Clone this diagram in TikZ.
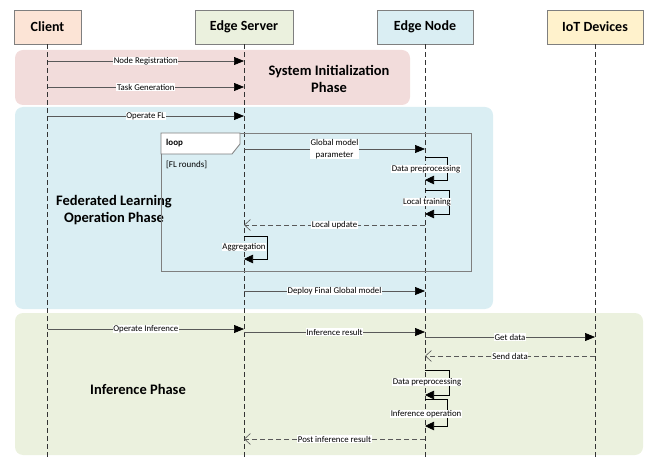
\documentclass[tikz,border=0pt]{standalone}
\usepackage{fontspec}
\setmainfont{Carlito}
\usetikzlibrary{arrows.meta}

\definecolor{clientfill}{HTML}{FCE4D6}
\definecolor{serverfill}{HTML}{EBF1DE}
\definecolor{nodefill}{HTML}{DAEEF3}
\definecolor{iotfill}{HTML}{FFF2CC}
\definecolor{initbg}{HTML}{F2DCDB}
\definecolor{flbg}{HTML}{DAEEF3}
\definecolor{infbg}{HTML}{EBF1DE}
\definecolor{boxline}{HTML}{7F7F7F}
\definecolor{msgline}{HTML}{595959}

\begin{document}
\begin{tikzpicture}[x=1pt,y=-1pt,
  head/.style={draw=boxline, line width=.7pt, minimum height=34pt,
    font=\fontsize{14}{16}\selectfont\bfseries, inner sep=0pt},
  lifeline/.style={draw=black!80, line width=.7pt, dash pattern=on 5pt off 3pt},
  phasebg/.style={rounded corners=8pt, draw=none},
  phasetxt/.style={align=center, font=\fontsize{14.5}{17}\selectfont\bfseries},
  lbl/.style={fill=white, inner sep=.6pt, font=\fontsize{8.8}{10}\selectfont},
  msg/.style={draw=msgline, line width=.7pt,
    -{Triangle[length=10pt,width=8pt,black]}},
  reply/.style={draw=msgline, line width=.7pt, dash pattern=on 5pt off 3pt,
    -{Straight Barb[length=6pt,width=11pt,line width=.6pt,msgline]}},
  selfmsg/.style={draw=black, line width=.7pt,
    -{Triangle[length=9pt,width=8.5pt,black]}},
  frame/.style={draw=boxline, line width=.8pt, inner sep=0pt}
]
\useasboundingbox (0,0) rectangle (648,457);

% phase backgrounds
\fill[phasebg, initbg] (15,50) rectangle (410,105);
\fill[phasebg, flbg] (15,107) rectangle (493,309);
\fill[phasebg, infbg] (15,313) rectangle (643,455);

% participants
\node[head, fill=clientfill, minimum width=67pt] (client) at (47.5,27) {Client};
\node[head, fill=serverfill, minimum width=98pt] (server) at (244,27) {Edge Server};
\node[head, fill=nodefill, minimum width=96pt] (enode) at (425,27) {Edge Node};
\node[head, fill=iotfill, minimum width=96pt] (iot) at (595,27) {IoT Devices};

% lifelines
\foreach \p in {client,server,enode,iot}
  \draw[lifeline] (\p.south) -- (\p.south |- 0,457);

% phase titles
\node[phasetxt] (initTitle) at (329,78.5) {System Initialization\\Phase};
\node[phasetxt] (flTitle) at (114,210.5) {Federated Learning\\Operation Phase};
\node[phasetxt] (infTitle) at (138,389) {Inference Phase};

% loop fragment
\node[frame, minimum width=310pt, minimum height=138pt, anchor=north west]
  (loopframe) at (161,133) {};
\filldraw[draw=boxline, line width=.8pt, fill=white]
  (loopframe.north west) -- ++(79,0) -- ++(0,11) -- ++(-8,10) -- ++(-71,0) -- cycle;
\node[anchor=west, font=\fontsize{9}{10}\selectfont\bfseries, inner sep=0pt]
  (loopLbl) at (166,143.5) {loop};
\node[anchor=west, font=\fontsize{9}{10}\selectfont, inner sep=0pt]
  (loopGuard) at (166,165) {[FL rounds]};

% system initialization
\draw[msg] (client |- 0,61) -- node[lbl] (mNR) {Node Registration} (server |- 0,61);
\draw[msg] (client |- 0,87) -- node[lbl] (mTG) {Task Generation} (server |- 0,87);

% federated learning
\draw[msg] (client |- 0,116) -- node[lbl] (mOF) {Operate FL} (server |- 0,116);
\draw[msg] (server |- 0,149) -- node[lbl, align=center, font=\fontsize{8.8}{12}\selectfont]
  (mGM) {Global model\\parameter} (enode |- 0,149);
\draw[selfmsg] (enode |- 0,157) -- ++(22,0) -- ++(0,23) -- ++(-22,0);
\node[lbl] (sDP1) at (426,169) {Data preprocessing};
\draw[selfmsg] (enode |- 0,190) -- ++(24,0) -- ++(0,24) -- ++(-24,0);
\node[lbl] (sLT) at (427,202) {Local training};
\draw[reply] (enode |- 0,225) -- node[lbl] (mLU) {Local update} (server |- 0,225);
\draw[selfmsg] (server |- 0,236) -- ++(23,0) -- ++(0,23) -- ++(-23,0);
\node[lbl] (sAG) at (244,247) {Aggregation};
\draw[msg] (server |- 0,291) -- node[lbl] (mDF) {Deploy Final Global model} (enode |- 0,291);

% inference
\draw[msg] (client |- 0,329) -- node[lbl] (mOI) {Operate Inference} (server |- 0,329);
\draw[msg] (server |- 0,332) -- node[lbl] (mIR) {Inference result} (enode |- 0,332);
\draw[msg] (enode |- 0,337) -- node[lbl] (mGD) {Get data} (iot |- 0,337);
\draw[reply] (iot |- 0,356) -- node[lbl] (mSD) {Send data} (enode |- 0,356);
\draw[selfmsg] (enode |- 0,370) -- ++(24,0) -- ++(0,25) -- ++(-24,0);
\node[lbl] (sDP2) at (427,382) {Data preprocessing};
\draw[selfmsg] (enode |- 0,399) -- ++(22,0) -- ++(0,27) -- ++(-22,0);
\node[lbl] (sIO) at (426,414) {Inference operation};
\draw[reply] (enode |- 0,439) -- node[lbl] (mPI) {Post inference result} (server |- 0,439);

\end{tikzpicture}
\end{document}
